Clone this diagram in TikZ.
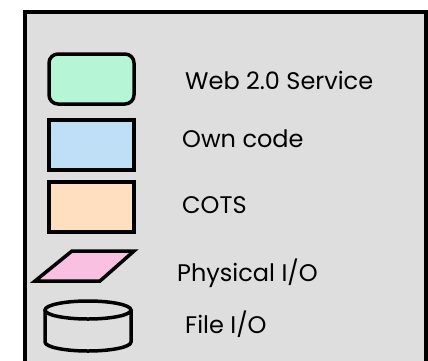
\documentclass[tikz,border=0pt]{standalone}
\usepackage{fontspec}
\setmainfont{Poppins}
\usepackage{xcolor}
\usepackage{tikz}
\usetikzlibrary{arrows}

\definecolor{fondgris}{HTML}{DEDEDE}
\definecolor{vertweb}{HTML}{B6F5D6}
\definecolor{bleucode}{HTML}{BFDFF7}
\definecolor{pechecots}{HTML}{FFDFBF}
\definecolor{rosephys}{HTML}{F9C0E1}

\tikzset{
  boite/.style={draw=black, line width=3.5pt, minimum width=85pt, minimum height=50pt, inner sep=0pt},
  legende/.style={anchor=base west, inner sep=0pt, font=\fontsize{24}{28}\selectfont}
}

\begin{document}
\begin{tikzpicture}[x=1pt,y=-1pt]
            \useasboundingbox (0,0) rectangle (428,360);
            \clip (0,0) rectangle (428,360);

            % Dessiner le cadre
            \draw[line width=3.5pt, fill=fondgris] (25,12) rectangle (426,372);

            % Dessiner les formes
            \node[boite, rounded corners=9pt, fill=vertweb] (web) at (91.5,79) {};
            \node[boite, fill=bleucode] (own) at (91.5,145) {};
            \node[boite, fill=pechecots] (cots) at (91.5,207) {};
            \draw[line width=3.5pt, line join=miter, fill=rosephys] (72,251) -- (134,251) -- (100,281) -- (35,281) -- cycle;
            \coordinate (phys) at (84,266);
            \draw[line width=3.5pt, fill=fondgris] (45,310) -- (45,342) arc[start angle=180, end angle=0, x radius=43, y radius=9] -- (131,310);
            \draw[line width=3.5pt, fill=fondgris] (88,310) ellipse [x radius=43, y radius=9];
            \coordinate (file) at (88,326);

            % Ajouter les textes
            \node[legende] (tweb) at (185,89) {Web 2.0 Service};
            \node[legende] (town) at (182,147) {Own code};
            \node[legende] (tcots) at (182,213) {COTS};
            \node[legende] (tphys) at (177,281) {Physical I/O};
            \node[legende] (tfile) at (185,333) {File I/O};

\end{tikzpicture}
\end{document}
